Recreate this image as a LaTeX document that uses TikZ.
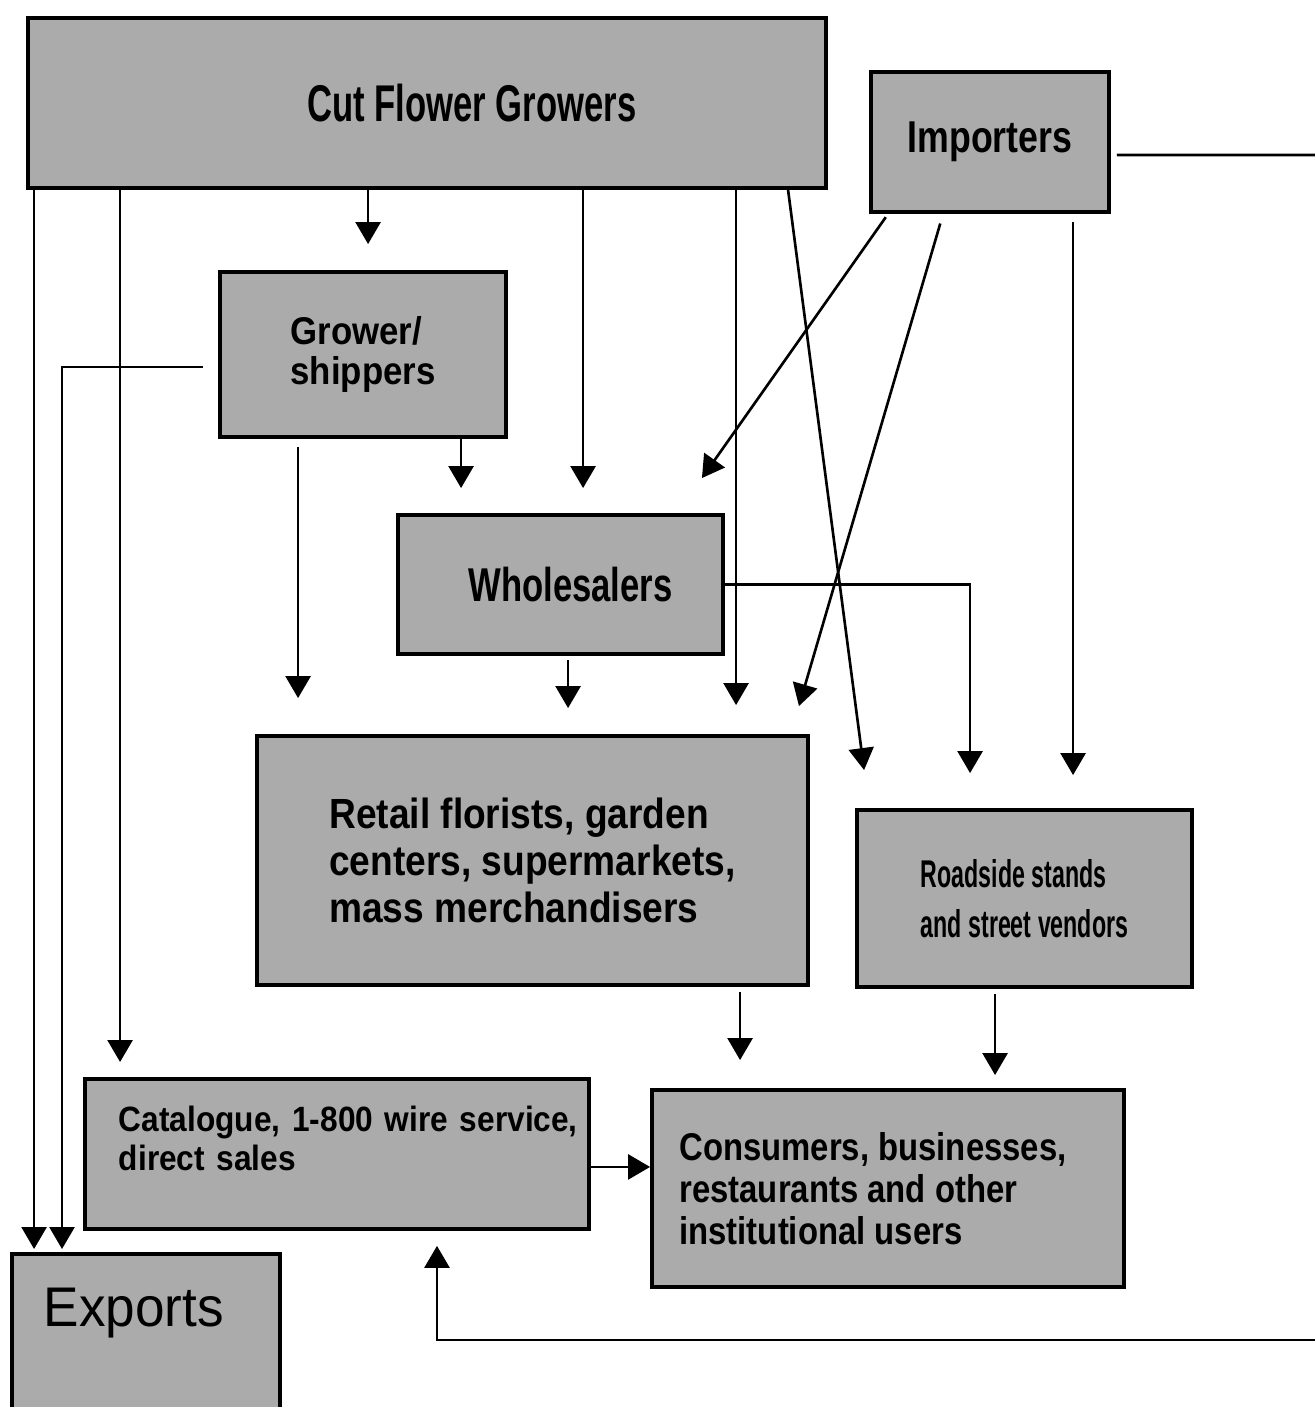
\documentclass[tikz,border=0pt]{standalone}
\usepackage{fontspec}
\setmainfont{Liberation Sans}
\usetikzlibrary{arrows.meta}

\newcommand{\growfont}{\fontsize{14.7}{17}\selectfont\bfseries\addfontfeatures{FakeStretch=0.67}}
\newcommand{\impfont}{\fontsize{12.7}{15}\selectfont\bfseries\addfontfeatures{FakeStretch=0.8}}
\newcommand{\shipfont}{\fontsize{11}{11.4}\selectfont\bfseries\addfontfeatures{FakeStretch=0.9}}
\newcommand{\wholefont}{\fontsize{13.5}{16}\selectfont\bfseries\addfontfeatures{FakeStretch=0.73}}
\newcommand{\retailfont}{\fontsize{12}{13.4}\selectfont\bfseries\addfontfeatures{FakeStretch=0.88}}
\newcommand{\roadfont}{\fontsize{11}{14.2}\selectfont\bfseries\addfontfeatures{FakeStretch=0.6}}
\newcommand{\catfont}{\fontsize{10}{11}\selectfont\bfseries\addfontfeatures{FakeStretch=0.9}}
\newcommand{\consfont}{\fontsize{11}{12}\selectfont\bfseries\addfontfeatures{FakeStretch=0.85}}
\newcommand{\expfont}{\fontsize{15.9}{18}\selectfont\addfontfeatures{FakeStretch=0.95}}

\begin{document}
\begin{tikzpicture}[x=0.1mm,y=-0.1mm,every path/.style={>={Triangle[width=2.5mm,length=2.2mm]}},
    box/.style={draw,rectangle,line width=1.1pt,fill=black!33,inner sep=0pt},
    flow/.style={->,line width=0.75pt}]
		\useasboundingbox (0,0) rectangle (1315,1407);

		% draw sources
		\node (grow) at (427,103) [box,minimum width=79.8mm,minimum height=17mm,font=\growfont] {\hspace*{9mm}Cut Flower Growers};
		\node (imp) at (990,142) [box,minimum width=23.8mm,minimum height=14mm,font=\impfont] {Importers};

		% draw middlemen
		\node (gship) at (363,354.5) [box,minimum width=28.6mm,minimum height=16.5mm,align=left,font=\shipfont] {Grower/\\shippers};
		\node (whole) at (560.5,584.5) [box,minimum width=32.5mm,minimum height=13.9mm,font=\wholefont] {\hspace*{2mm}Wholesalers};

		% draw outlets
		\node (retail) at (532.5,860.5) [box,minimum width=55.1mm,minimum height=24.9mm,align=left,font=\retailfont] {Retail florists, garden\\centers, supermarkets,\\mass merchandisers};
		\node (road) at (1024.5,898.5) [box,minimum width=33.5mm,minimum height=17.7mm,align=left,font=\roadfont] {Roadside stands\\and street vendors};
		\node (cat) at (83,1077) [box,anchor=north west,inner ysep=2.8mm,text width=50.4mm,text height=2.5mm,text depth=6.9mm,align=left,font=\catfont] {\hspace*{3.4mm}Catalogue, 1-800 wire service,\\\hspace*{3.4mm}direct sales};

		% draw end users
		\node (cons) at (888,1188.5) [box,minimum width=47.2mm,minimum height=19.7mm,align=left,font=\consfont] {Consumers, businesses,\hspace*{3mm}\\restaurants and other\\institutional users};
		\node (exp) at (10,1252) [box,anchor=north west,inner xsep=3.2mm,inner ysep=3.3mm,text width=20.4mm,text height=4mm,text depth=9mm,align=left,font=\expfont] {Exports};

		% free ends at the right margin
		\coordinate (impout) at (1315,155);
		\coordinate (loopin) at (1315,1340);

		% draw lines from growers
		\draw[flow,shorten >=0.3mm] ([xshift=0.8mm]grow.south west) -- ([xshift=0.8mm]grow.south west |- exp.north);
		\draw[flow,shorten >=1.5mm] ([xshift=9.4mm]grow.south west) -- ([xshift=9.4mm]grow.south west |- cat.north);
		\draw[flow,shorten >=2.6mm] ([xshift=34.2mm]grow.south west) -- ([xshift=34.2mm]grow.south west |- gship.north);
		\draw[flow,shorten >=2.5mm] ([xshift=55.7mm]grow.south west) -- ([xshift=55.7mm]grow.south west |- whole.north);
		\draw[flow,shorten >=2.9mm] ([xshift=71mm]grow.south west) -- ([xshift=71mm]grow.south west |- retail.north);
		\draw[flow] ([xshift=76.2mm]grow.south west) -- ([shift={(0.9mm,3.8mm)}]road.north west);

		% draw lines from importers
		\draw[flow,shorten <=0.4mm] ([xshift=1.9mm]imp.south west) -- ([shift={(-2.3mm,3.5mm)}]whole.north east);
		\draw[flow,shorten <=1mm] ([xshift=7.4mm]imp.south west) -- ([shift={(-1.1mm,2.8mm)}]retail.north east);
		\draw[flow,shorten <=0.8mm,shorten >=3.3mm] ([xshift=20.4mm]imp.south west) -- ([xshift=20.4mm]imp.south west |- road.north);
		\draw[line width=0.75pt,shorten <=0.6mm] ([yshift=-1.3mm]imp.east) -- (impout);

		% draw lines from grower/shippers
		\draw[flow,shorten <=1.5mm,shorten >=0.3mm] ([yshift=-1.25mm]gship.west) -| ([xshift=5.2mm]exp.north west);
		\draw[flow,shorten <=0.8mm,shorten >=3.6mm] ([xshift=8mm]gship.south west) -- ([xshift=8mm]gship.south west |- retail.north);
		\draw[flow,shorten >=2.5mm] ([xshift=24.3mm]gship.south west) -- ([xshift=24.3mm]gship.south west |- whole.north);

		% draw lines from wholesalers
		\draw[flow,shorten <=0.4mm,shorten >=2.6mm] ([xshift=17.2mm]whole.south west) -- ([xshift=17.2mm]whole.south west |- retail.north);
		\draw[flow,shorten >=3.5mm] (whole.east) -| ([xshift=11.5mm]road.north west);

		% draw lines to consumers
		\draw[flow,shorten <=0.5mm,shorten >=2.8mm] ([xshift=48.5mm]retail.south west) -- ([xshift=48.5mm]retail.south west |- cons.north);
		\draw[flow,shorten <=0.5mm,shorten >=1.3mm] ([xshift=14mm]road.south west) -- ([xshift=14mm]road.south west |- cons.north);
		\draw[flow] ([yshift=-1.3mm]cat.east) -- ([yshift=-1.3mm]cat.east -| cons.west);

		% draw line back to catalogue
		\draw[flow,shorten >=1.5mm] (loopin) -| ([xshift=35.4mm]cat.south west);
	\end{tikzpicture}
\end{document}
